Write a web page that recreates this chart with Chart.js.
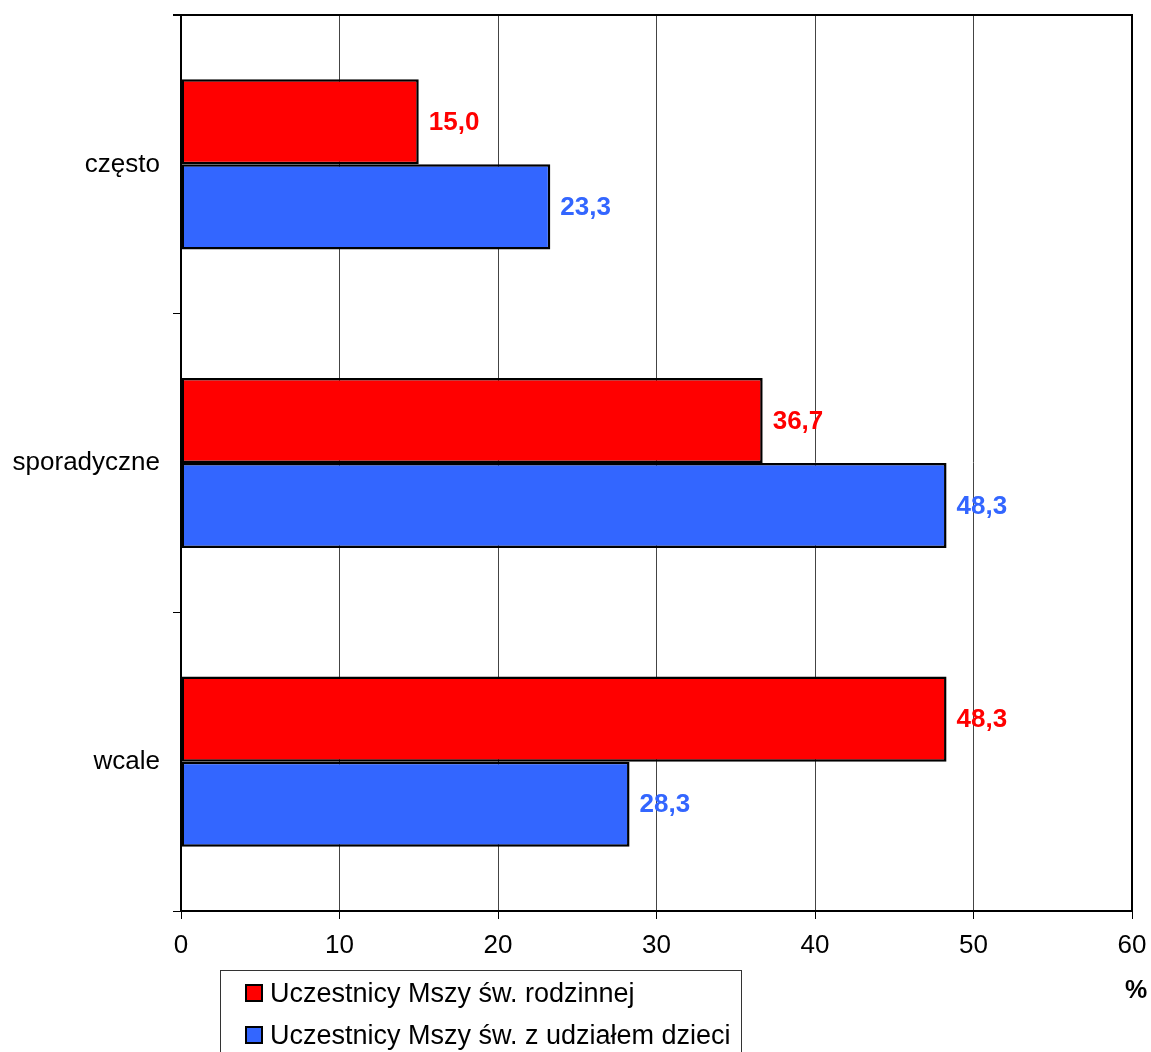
<!DOCTYPE html>
<html>
<head>
<meta charset="utf-8">
<script src="https://cdn.jsdelivr.net/npm/chart.js@4.4.0/dist/chart.umd.min.js"></script>
<style>
  html, body { margin: 0; padding: 0; background: #fff; overflow: hidden; }
  #wrap { position: relative; width: 1151px; height: 1052px; font-family: 'Liberation Sans', Arial, sans-serif; }
  #chart { position: absolute; left: 0; top: 0; }
  #legend { position: absolute; left: 220px; top: 970px; width: 522px; height: 100px; border: 1px solid #333; box-sizing: border-box; }
  .item { position: absolute; left: 24px; font-size: 27px; color: #000; white-space: nowrap; line-height: 30px; }
  .box { display: inline-block; width: 14px; height: 14px; border: 2px solid #000; vertical-align: 0px; margin-right: 7px; }
  #unit { position: absolute; left: 1125px; top: 975px; font-size: 25px; font-weight: bold; }
</style>
</head>
<body>
<div id="wrap">
  <canvas id="chart" width="1151" height="1052"></canvas>
  <div id="legend"></div>
  <div id="unit">%</div>
</div>
<script>
/* ====== data ====== */
const categories = ['często', 'sporadyczne', 'wcale'];
const seriesNames = ['Uczestnicy Mszy św. rodzinnej', 'Uczestnicy Mszy św. z udziałem dzieci'];
const rodzinnej = [15.0, 36.7, 48.3];
const dzieci = [23.3, 48.3, 28.3];
const seriesColors = ['#FF0000', '#3366FF'];
const xTicks = [0, 10, 20, 30, 40, 50, 60];

// legend (html, built from the arrays)
const legendEl = document.getElementById('legend');
seriesNames.forEach((name, i) => {
  const d = document.createElement('div');
  d.className = 'item';
  d.style.top = (7 + i * 42) + 'px';
  d.innerHTML = '<span class="box" style="background:' + seriesColors[i] + '"></span>' + name;
  legendEl.appendChild(d);
});

// value labels next to the bars
const valueLabels = {
  id: 'valueLabels',
  afterDatasetsDraw(chart) {
    const ctx = chart.ctx;
    ctx.save();
    ctx.font = 'bold 26px "Liberation Sans", Arial, sans-serif';
    ctx.textBaseline = 'middle';
    ctx.textAlign = 'left';
    chart.data.datasets.forEach((ds, i) => {
      const meta = chart.getDatasetMeta(i);
      ctx.fillStyle = seriesColors[i];
      meta.data.forEach((bar, j) => {
        ctx.fillText(ds.data[j].toFixed(1).replace('.', ','), bar.x + 10, bar.y + 1);
      });
    });
    ctx.restore();
  }
};

// top + right frame of the plot area
const plotFrame = {
  id: 'plotFrame',
  afterDraw(chart) {
    const a = chart.chartArea, ctx = chart.ctx;
    ctx.save();
    ctx.strokeStyle = '#000';
    ctx.lineWidth = 2;
    ctx.beginPath();
    ctx.moveTo(a.left - 8, a.top);
    ctx.lineTo(a.right, a.top);
    ctx.lineTo(a.right, a.bottom);
    ctx.stroke();
    ctx.restore();
  }
};

// no extra room for overhanging tick labels, the layout padding decides
function noOverhang(s) {
  s.paddingTop = 0; s.paddingBottom = 0; s.paddingLeft = 0; s.paddingRight = 0;
}

new Chart(document.getElementById('chart'), {
  type: 'bar',
  data: {
    labels: categories,
    datasets: [
      { label: seriesNames[0], data: rodzinnej, backgroundColor: seriesColors[0], borderColor: '#000', borderWidth: 2.5, borderSkipped: false },
      { label: seriesNames[1], data: dzieci, backgroundColor: seriesColors[1], borderColor: '#000', borderWidth: 2.5, borderSkipped: false }
    ]
  },
  options: {
    indexAxis: 'y',
    responsive: false,
    animation: false,
    layout: { padding: { left: 0, top: 15, right: 19, bottom: 81 } },
    datasets: { bar: { categoryPercentage: 0.57, barPercentage: 1.0 } },
    plugins: { legend: { display: false }, tooltip: { enabled: false } },
    scales: {
      x: {
        min: 0, max: 60,
        afterBuildTicks: s => { s.ticks = xTicks.map(v => ({ value: v })); },
        afterFit: s => { s.height = 60; noOverhang(s); },
        grid: { color: '#444', lineWidth: 1, tickLength: 8, tickColor: '#000' },
        border: { color: '#000', width: 2 },
        ticks: { color: '#000', padding: 11, font: { family: "'Liberation Sans', Arial, sans-serif", size: 26 } }
      },
      y: {
        afterFit: s => { s.width = 181; noOverhang(s); },
        grid: { offset: true, drawOnChartArea: false, tickLength: 8, color: '#000' },
        border: { color: '#000', width: 2 },
        ticks: { color: '#000', padding: 13, font: { family: "'Liberation Sans', Arial, sans-serif", size: 26 } }
      }
    }
  },
  plugins: [valueLabels, plotFrame]
});
</script>
</body>
</html>
